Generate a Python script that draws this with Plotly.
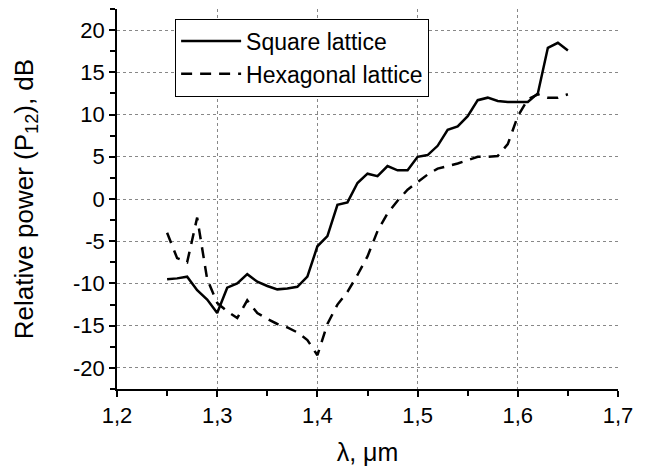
import plotly.graph_objects as go

wavelength = [1.25, 1.26, 1.27, 1.28, 1.29, 1.30, 1.31, 1.32, 1.33, 1.34,
              1.35, 1.36, 1.37, 1.38, 1.39, 1.40, 1.41, 1.42, 1.43, 1.44,
              1.45, 1.46, 1.47, 1.48, 1.49, 1.50, 1.51, 1.52, 1.53, 1.54,
              1.55, 1.56, 1.57, 1.58, 1.59, 1.60, 1.61, 1.62, 1.63, 1.64, 1.65]

square = [-9.5, -9.4, -9.2, -10.8, -11.9, -13.5, -10.5, -10.0, -8.9, -9.8,
          -10.3, -10.7, -10.6, -10.4, -9.2, -5.6, -4.4, -0.7, -0.4, 1.9,
          3.0, 2.7, 3.9, 3.4, 3.4, 5.0, 5.2, 6.3, 8.2, 8.6,
          9.8, 11.7, 12.0, 11.6, 11.5, 11.5, 11.5, 12.5, 17.9, 18.5, 17.6]

hexagonal = [-4.0, -7.0, -7.5, -2.2, -9.5, -12.3, -13.3, -14.1, -12.0, -13.5,
             -14.2, -14.8, -15.2, -15.8, -16.7, -18.5, -14.8, -12.5, -11.0, -9.0,
             -6.8, -3.8, -1.7, -0.2, 1.1, 2.0, 2.9, 3.6, 3.9, 4.2,
             4.6, 5.0, 5.0, 5.1, 6.5, 9.8, 11.8, 12.4, 12.0, 12.0, 12.4]

x_tickvals = [1.2, 1.3, 1.4, 1.5, 1.6, 1.7]
x_ticktext = ["1,2", "1,3", "1,4", "1,5", "1,6", "1,7"]
y_tickvals = [-20, -15, -10, -5, 0, 5, 10, 15, 20]
y_ticktext = ["-20", "-15", "-10", "-5", "0", "5", "10", "15", "20"]

FONT = "Liberation Sans, Arial, sans-serif"

fig = go.Figure()
fig.add_trace(go.Scatter(x=wavelength, y=square, mode="lines", name="Square lattice",
                         line=dict(color="black", width=2.5)))
fig.add_trace(go.Scatter(x=wavelength, y=hexagonal, mode="lines", name="Hexagonal lattice",
                         line=dict(color="black", width=2.5, dash="11px,8px")))

axis_common = dict(
    showline=True, linecolor="black", linewidth=1.5,
    ticks="outside", ticklen=6, tickwidth=1.5, tickcolor="black",
    showgrid=True, gridcolor="#888888", gridwidth=1, griddash="dot",
    zeroline=False,
    tickfont=dict(family=FONT, size=22, color="black"),
)

fig.update_xaxes(range=[1.2, 1.7], tickvals=x_tickvals, ticktext=x_ticktext,
                 minor=dict(tickvals=[1.25, 1.35, 1.45, 1.55, 1.65], ticklen=5, tickwidth=1.5,
                            tickcolor="black", ticks="outside", showgrid=False),
                 title=dict(text="λ, μm", font=dict(family=FONT, size=25, color="black"), standoff=16),
                 **axis_common)
fig.update_yaxes(range=[-22.5, 22.5], tickvals=y_tickvals, ticktext=y_ticktext,
                 minor=dict(dtick=2.5, ticklen=5, tickwidth=1.5, tickcolor="black",
                            ticks="outside", showgrid=False),
                 title=dict(text="Relative power (P<sub>12</sub>), dB",
                            font=dict(family=FONT, size=26, color="black"), standoff=32),
                 **axis_common)

fig.update_layout(
    width=650, height=471,
    margin=dict(l=117, r=32, t=9, b=82),
    plot_bgcolor="white", paper_bgcolor="white",
    legend=dict(x=0.116, y=0.975, xanchor="left", yanchor="top",
                bgcolor="white", bordercolor="black", borderwidth=1,
                font=dict(family=FONT, size=23, color="black"),
                itemwidth=60, tracegroupgap=0),
    showlegend=True,
)

fig.write_html("out.html")
